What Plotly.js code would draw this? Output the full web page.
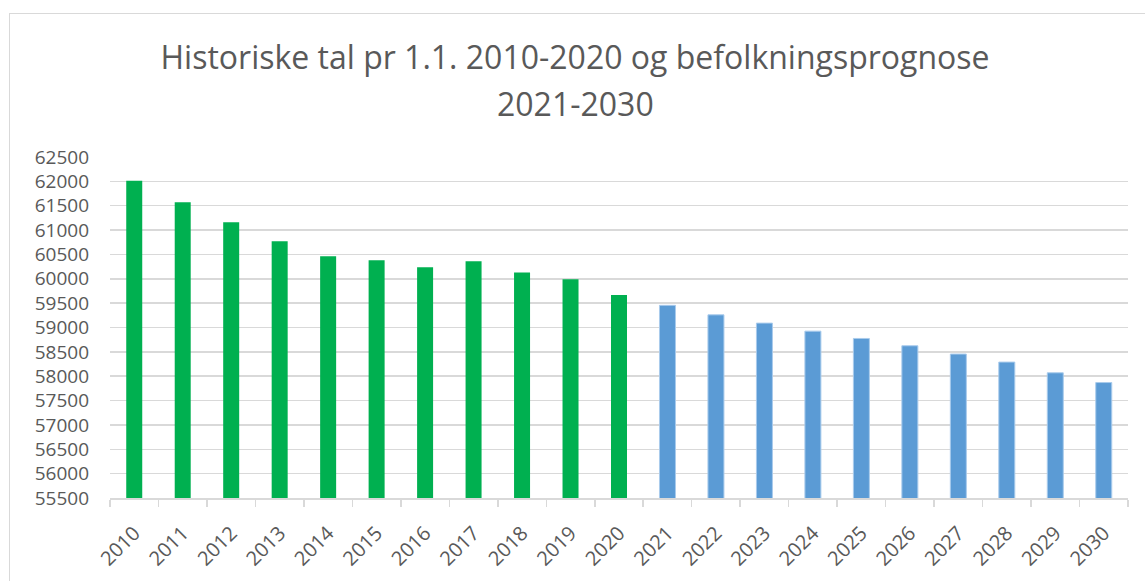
<!DOCTYPE html>
<html>
<head>
<meta charset="utf-8">
<script src="https://cdn.plot.ly/plotly-3.0.1.min.js"></script>
<style>
  body { margin: 0; background: #fff; }
  #chart { position: absolute; left: 0; top: 0; width: 1145px; height: 581px; }
  #frame { position: absolute; left: 9px; top: 13px; width: 1200px; height: 700px;
           border: 1px solid #d9d9d9; pointer-events: none; }
</style>
</head>
<body>
<div id="chart"></div>
<div id="frame"></div>
<script>
// historiske tal 2010-2020
var histYears = ['2010', '2011', '2012', '2013', '2014', '2015', '2016', '2017', '2018', '2019', '2020'];
var histValues = [62010, 61570, 61160, 60770, 60465, 60380, 60235, 60360, 60130, 59990, 59665];

// prognose 2021-2030
var progYears = ['2021', '2022', '2023', '2024', '2025', '2026', '2027', '2028', '2029', '2030'];
var progValues = [59455, 59260, 59090, 58925, 58775, 58625, 58455, 58290, 58070, 57870];

var yTicks = [55500, 56000, 56500, 57000, 57500, 58000, 58500, 59000, 59500, 60000,
              60500, 61000, 61500, 62000, 62500];

var titleLine1 = 'Historiske tal pr 1.1. 2010-2020 og befolkningsprognose',
    titleLine2 = '2021-2030';

var textColor = '#595959',
    gridColor = '#d9d9d9';

var data = [{
    type: 'bar',
    x: histYears,
    y: histValues,
    marker: {color: '#00b050'},
    hoverinfo: 'x+y',
    showlegend: false
}, {
    type: 'bar',
    x: progYears,
    y: progValues,
    marker: {color: '#5b9bd5', line: {color: '#a9cbec', width: 1}},
    hoverinfo: 'x+y',
    showlegend: false
}];

var layout = {
    width: 1145,
    height: 581,
    margin: {l: 110, r: 17, t: 157, b: 83},
    paper_bgcolor: 'rgba(0,0,0,0)',
    plot_bgcolor: '#fff',
    font: {family: 'Open Sans, sans-serif', color: textColor},
    title: {
        text: titleLine1,
        font: {size: 32, color: textColor},
        x: 575 / 1145,
        xref: 'container',
        xanchor: 'center',
        y: 1 - 47 / 581,
        yanchor: 'top'
    },
    annotations: [{
        text: titleLine2,
        font: {size: 32, color: textColor},
        xref: 'paper', yref: 'paper',
        x: (575 - 110) / 1018,
        y: (498 - 104) / 341,
        xanchor: 'center',
        yanchor: 'middle',
        showarrow: false
    }],
    barmode: 'overlay',
    bargap: 0.67,
    xaxis: {
        type: 'category',
        tickangle: -45,
        tickfont: {size: 20, color: textColor},
        showgrid: false,
        showline: true,
        linecolor: gridColor,
        linewidth: 1.5,
        ticks: 'outside',
        tickson: 'boundaries',
        ticklen: 7,
        tickwidth: 1.5,
        tickcolor: gridColor,
        ticklabelstandoff: 14,
        fixedrange: true
    },
    yaxis: {
        range: [55500, 62500],
        tickvals: yTicks,
        ticktext: yTicks.map(String),
        tickfont: {size: 19, color: textColor},
        showgrid: true,
        gridcolor: gridColor,
        gridwidth: 1.5,
        zeroline: false,
        showline: false,
        ticklabelstandoff: 20,
        fixedrange: true
    }
};

Plotly.newPlot('chart', data, layout, {displayModeBar: false, staticPlot: true});
</script>
</body>
</html>
